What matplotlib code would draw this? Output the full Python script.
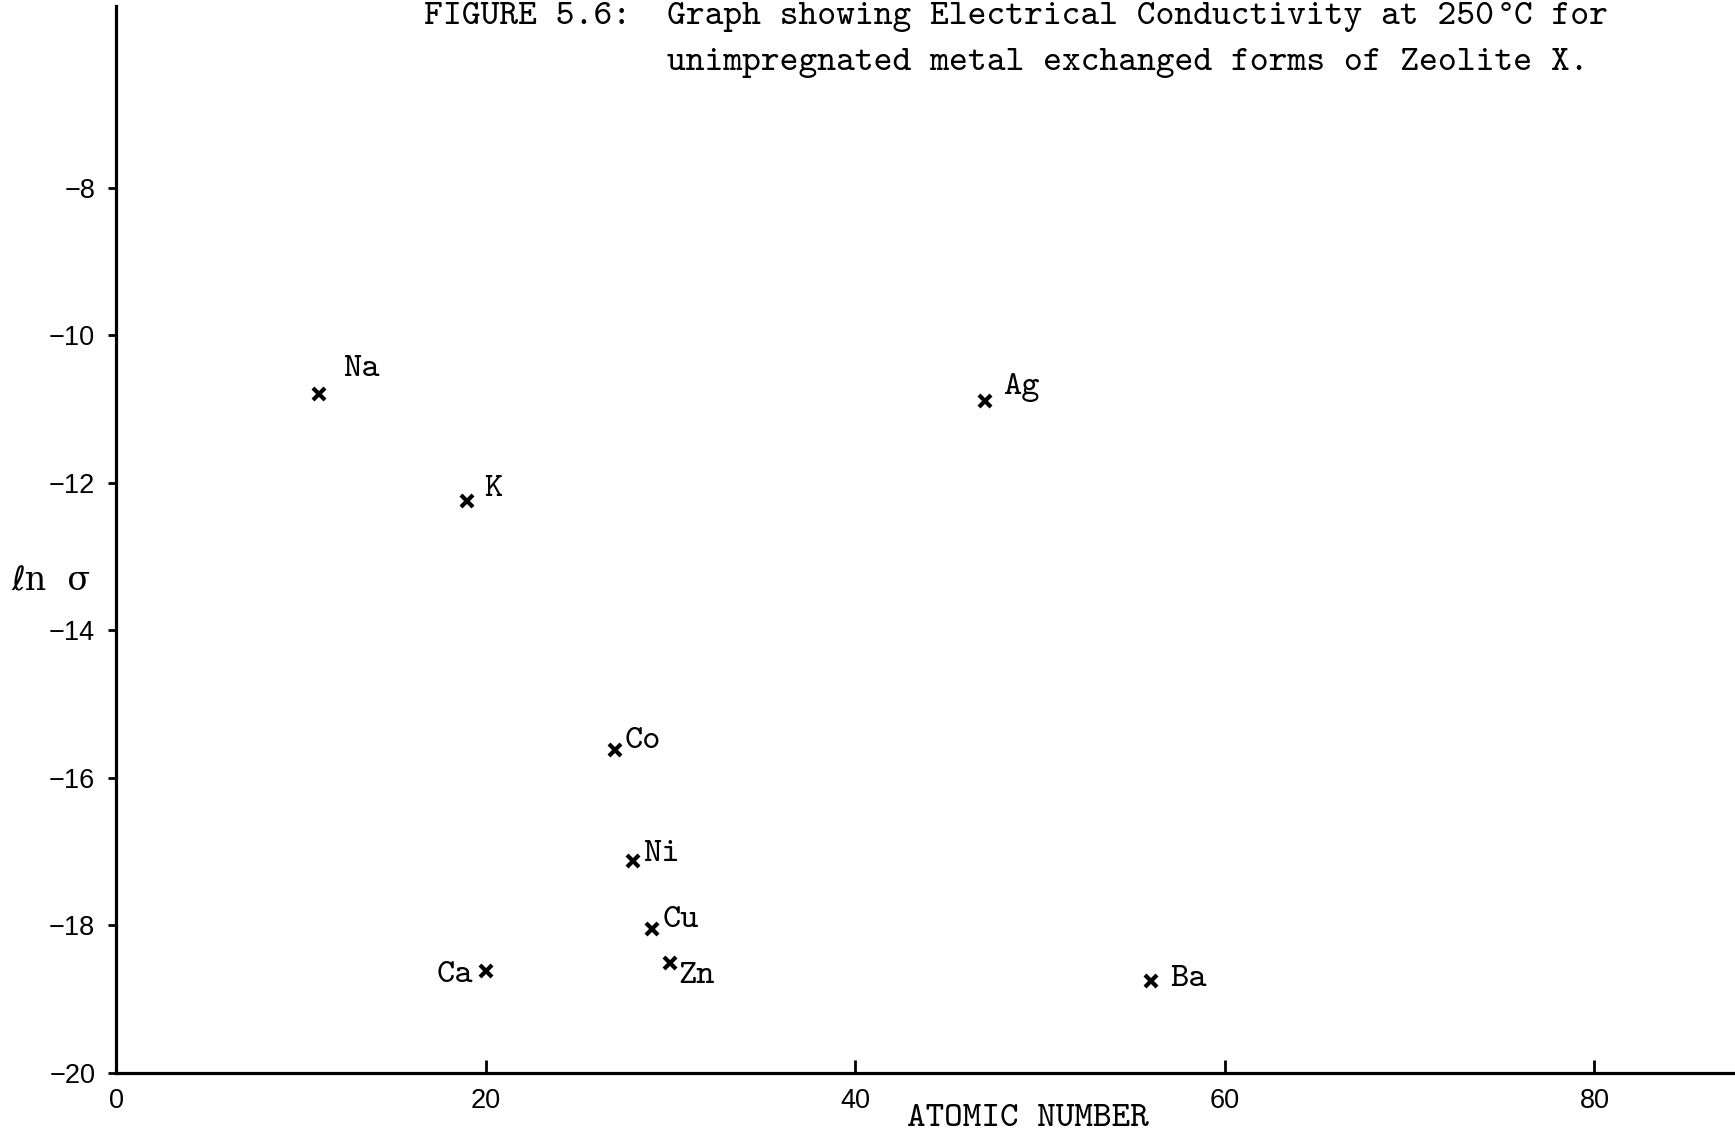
import matplotlib
matplotlib.use("Agg")
import matplotlib.pyplot as plt

# Metal-exchanged Zeolite X: atomic number vs ln(conductivity) at 250 C
elements = ["Na", "K", "Ca", "Co", "Ni", "Cu", "Zn", "Ag", "Ba"]
atomic_number = [11, 19, 20, 27, 28, 29, 30, 47, 56]
ln_sigma = [-10.79, -12.24, -18.62, -15.62, -17.12, -18.05, -18.51, -10.89, -18.75]

# label offsets in points (dx, dy) and horizontal alignment
label_offsets = {
    "Na": (17, 17, "left"),
    "K": (12, 8, "left"),
    "Ca": (-9, -3, "right"),
    "Co": (7, 6, "left"),
    "Ni": (7, 4, "left"),
    "Cu": (8, 6, "left"),
    "Zn": (6, -10, "left"),
    "Ag": (13, 10, "left"),
    "Ba": (14, 1, "left"),
}

x_ticks = [0, 20, 40, 60, 80]
y_ticks = [-8, -10, -12, -14, -16, -18, -20]

plt.rcParams["axes.unicode_minus"] = True
type_font = ["cmtt10", "DejaVu Sans Mono"]
tick_font = "Liberation Sans"

W, H = 1735, 1135
fig = plt.figure(figsize=(W / 100, H / 100), dpi=100)
left, bottom, top = 116, 1073, 5.5
ax = fig.add_axes([left / W, (H - bottom) / H, 1 - left / W, (bottom - top) / H])
ax.set_xlim(0, (W - left) / 18.48)
ax.set_ylim(-20, -20 + (bottom - top) / 73.77)

for s in ("top", "right"):
    ax.spines[s].set_visible(False)
for s in ("left", "bottom"):
    ax.spines[s].set_linewidth(2.3)

ax.plot(atomic_number, ln_sigma, linestyle="none", marker="x",
        markersize=8.5, markeredgewidth=3.0, color="black")

for el, xv, yv in zip(elements, atomic_number, ln_sigma):
    dx, dy, ha = label_offsets[el]
    ax.annotate(el, (xv, yv), xytext=(dx, dy), textcoords="offset points",
                ha=ha, va="center", fontsize=25, family=type_font)

ax.set_xticks(x_ticks)
ax.set_yticks(y_ticks)
ax.tick_params(axis="x", direction="in", length=9.5, width=2, pad=11,
               labelsize=19.5)
ax.tick_params(axis="y", direction="out", length=6, width=2, pad=9,
               labelsize=19.5)
for lab in ax.get_xticklabels() + ax.get_yticklabels():
    lab.set_family(tick_font)

# axis captions
fig.text(11 / W, 1 - 581 / H, "ℓn  σ", ha="left", va="center",
         fontsize=24, family=["DejaVu Serif", "DejaVu Sans"])
fig.text(907 / W, 1 - 1119 / H, "ATOMIC NUMBER", ha="left", va="center",
         fontsize=25.5, family=type_font)

# figure caption (typewriter face; the degree sign is set separately)
cap_size = 25.8
char_w = 0.525 * cap_size * 100 / 72
x0 = 667
base1, base2 = 24, 70
fig.text(424 / W, 1 - base1 / H, "FIGURE 5.6:", ha="left", va="baseline",
         fontsize=cap_size, family=type_font)
head = "Graph showing Electrical Conductivity at 250"
fig.text(x0 / W, 1 - base1 / H, head, ha="left", va="baseline",
         fontsize=cap_size, family=type_font)
fig.text((x0 + len(head) * char_w + 2) / W, 1 - base1 / H, "°", ha="left",
         va="baseline", fontsize=cap_size - 4, family=["DejaVu Sans Mono"])
fig.text((x0 + (len(head) + 1) * char_w) / W, 1 - base1 / H, "C for",
         ha="left", va="baseline", fontsize=cap_size, family=type_font)
fig.text(x0 / W, 1 - base2 / H,
         "unimpregnated metal exchanged forms of Zeolite X.",
         ha="left", va="baseline", fontsize=cap_size, family=type_font)

fig.savefig("out.png", dpi=100, facecolor="white")
